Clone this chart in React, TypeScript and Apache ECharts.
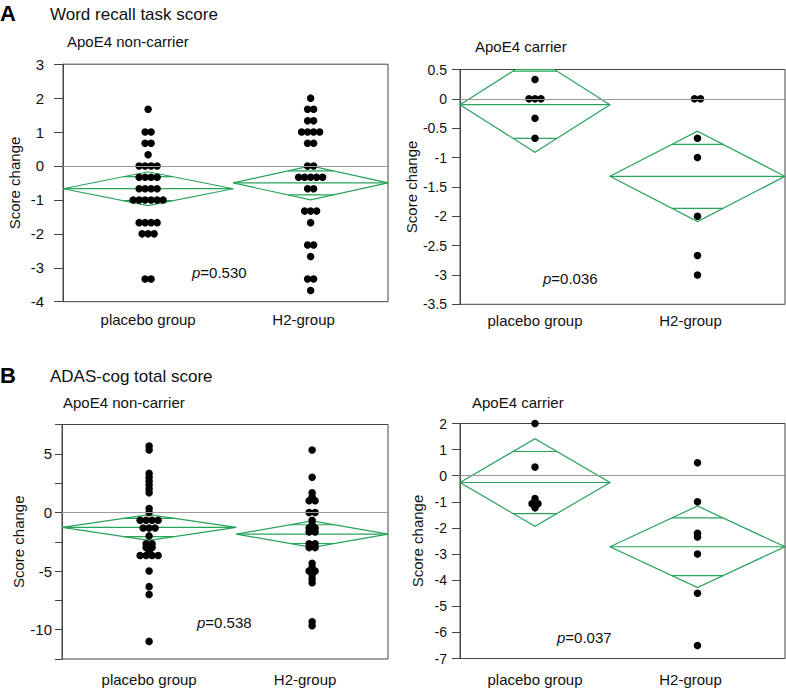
import React, { useEffect, useRef } from "react";
import * as echarts from "echarts";

// ---------- data ----------
const groupLabels = ["placebo group", "H2-group"];

// A: Word recall task score
const wordNonPlacebo = [
  1.67, 1, 1, 0.67, 0.67, 0.33, 0, 0, 0, 0, -0.33, -0.33, -0.33, -0.33,
  -0.67, -0.67, -0.67, -0.67, -1, -1, -1, -1, -1, -1, -1.67, -1.67, -1.67,
  -1.67, -2, -2, -2, -3.33, -3.33,
];
const wordNonH2 = [
  2, 1.67, 1.67, 1.33, 1.33, 1, 1, 1, 1, 0.67, 0.67, 0, 0, -0.33, -0.33,
  -0.33, -0.33, -0.33, -0.67, -0.67, -1.33, -1.33, -1.33, -1.67, -2.33, -2.33,
  -2.67, -3.33, -3.33, -3.67,
];
const wordCarPlacebo = [0.33, 0, 0, 0, -0.33, -0.67];
const wordCarH2 = [0, 0, -0.67, -1, -2, -2.67, -3];

// B: ADAS-cog total score
const adasNonPlacebo = [
  5.67, 5.33, 3.33, 3, 2.67, 2.33, 2, 1.67, 0.33, 0, -0.67, -0.67, -0.67,
  -0.67, -1.33, -1.33, -1.33, -2, -2.67, -2.67, -3, -3, -3.33, -3.67, -3.67,
  -3.67, -3.67, -5, -6.33, -7, -11,
];
const adasNonH2 = [
  5.33, 3, 1.67, 1.33, 1, 1, 0, 0, -0.67, -1, -1.33, -1.33, -1.67, -1.67,
  -2.67, -2.67, -3, -3, -4.33, -4.67, -5, -5, -5.33, -5.67, -6, -9.33, -9.67,
];
const adasCarPlacebo = [2, 0.33, -0.87, -1.07, -1.07, -1.23];
const adasCarH2 = [0.5, -1, -2.2, -2.35, -3, -4.5, -6.5];

// means diamonds: group mean and 95% CI half-width
const wordNonMeans = [-0.67, -0.5];
const wordNonCIs = [0.5, 0.5];
const wordCarMeans = [-0.1, -1.32];
const wordCarCIs = [0.81, 0.77];
const adasNonMeans = [-1.28, -1.85];
const adasNonCIs = [1.1, 1.13];
const adasCarMeans = [-0.26, -2.72];
const adasCarCIs = [1.68, 1.56];

// y axis ranges [min, max, interval, label step]
const wordNonAxis = [-4, 3, 1, 1];
const wordCarAxis = [-3.5, 0.5, 0.5, 0.5];
const adasNonAxis = [-12.5, 7.5, 2.5, 5];
const adasCarAxis = [-7, 2, 1, 1];

const pValues = ["0.530", "0.036", "0.538", "0.037"];

const sectionTitles = ["Word recall task score", "ADAS-cog total score"];
const sectionLetters = ["A", "B"];
const subTitles = ["ApoE4 non-carrier", "ApoE4 carrier"];

// ---------- styles / layout ----------
const FONT = "'Liberation Sans', Arial, Helvetica, sans-serif";
const GREEN = "#27a35a";
const FRAME = "#444444";
const ZERO = "#9a9a9a";
const TEXT = "#111111";
const DOT_SPACING = 6;
const DOT_SIZE = 7.5;

const panels = [
  { placebo: wordNonPlacebo, h2: wordNonH2, means: wordNonMeans, cis: wordNonCIs, axis: wordNonAxis, p: pValues[0] },
  { placebo: wordCarPlacebo, h2: wordCarH2, means: wordCarMeans, cis: wordCarCIs, axis: wordCarAxis, p: pValues[1] },
  { placebo: adasNonPlacebo, h2: adasNonH2, means: adasNonMeans, cis: adasNonCIs, axis: adasNonAxis, p: pValues[2] },
  { placebo: adasCarPlacebo, h2: adasCarH2, means: adasCarMeans, cis: adasCarCIs, axis: adasCarAxis, p: pValues[3] },
];

const layouts = [
  { left: 63, top: 64.2, width: 325, height: 237.5, tickLen: 9, labelMargin: 19, tickFont: 15, nameGap: 41, catMargin: 10, pX: 192, pY: 272 },
  { left: 460, top: 69.5, width: 325, height: 234.8, tickLen: 8, labelMargin: 13, tickFont: 14, nameGap: 36, catMargin: 9, pX: 543, pY: 278 },
  { left: 62, top: 424.5, width: 326, height: 234.5, tickLen: 7, labelMargin: 10, tickFont: 15, nameGap: 33, catMargin: 13, pX: 197, pY: 622 },
  { left: 460, top: 423.5, width: 325, height: 235, tickLen: 8, labelMargin: 13, tickFont: 14, nameGap: 35, catMargin: 13, pX: 557, pY: 637 },
];

const titleLayout = [
  { letterY: 13, titleY: 14, subY: [41, 46], subX: [67, 475] },
  { letterY: 375, titleY: 376, subY: [402, 402], subX: [63, 472] },
];

// ---------- helpers ----------
function tieOffsets(values: number[], spacing: number): number[] {
  const counts = new Map<number, number>();
  values.forEach((v) => counts.set(v, (counts.get(v) || 0) + 1));
  const seen = new Map<number, number>();
  return values.map((v) => {
    const n = counts.get(v) || 1;
    const i = seen.get(v) || 0;
    seen.set(v, i + 1);
    return (i - (n - 1) / 2) * spacing;
  });
}

function clipAgainst(poly: number[][], isIn: (p: number[]) => boolean, y: number) {
  const out: number[][] = [];
  for (let i = 0; i < poly.length; i++) {
    const cur = poly[i];
    const prev = poly[(i + poly.length - 1) % poly.length];
    const inter = () => [prev[0] + ((cur[0] - prev[0]) * (y - prev[1])) / (cur[1] - prev[1]), y];
    const cIn = isIn(cur);
    const pIn = isIn(prev);
    if (cIn) {
      if (!pIn) out.push(inter());
      out.push(cur);
    } else if (pIn) {
      out.push(inter());
    }
  }
  return out;
}

function groupSegments(nA: number, nB: number) {
  const f = nA / (nA + nB);
  return [
    [0, f],
    [f, 1],
  ];
}

function buildOption() {
  const grid: any[] = [];
  const xAxis: any[] = [];
  const yAxis: any[] = [];
  const series: any[] = [];
  const graphic: any[] = [];

  panels.forEach((pn, k) => {
    const L = layouts[k];
    const segs = groupSegments(pn.placebo.length, pn.h2.length);
    const centers = segs.map((s) => (s[0] + s[1]) / 2);
    const [yMin, yMax, yInt, yStep] = pn.axis;

    grid.push({
      left: L.left,
      top: L.top,
      width: L.width,
      height: L.height,
      show: true,
      borderColor: FRAME,
      borderWidth: 1,
      backgroundColor: "transparent",
      containLabel: false,
    });

    xAxis.push({
      type: "value",
      gridIndex: k,
      min: 0,
      max: 1,
      axisLine: { show: true, lineStyle: { color: FRAME, width: 1 } },
      axisTick: { show: false },
      splitLine: { show: false },
      axisLabel: {
        customValues: centers,
        margin: L.catMargin,
        fontSize: 15,
        fontFamily: FONT,
        color: TEXT,
        rich: {
          g0: { fontSize: 15, fontFamily: FONT, color: TEXT },
          g1: { fontSize: 15, fontFamily: FONT, color: TEXT, padding: [0, 14, 0, 0] },
        },
        formatter: (v: number) => {
          let best = 0;
          centers.forEach((c, i) => {
            if (Math.abs(c - v) < Math.abs(centers[best] - v)) best = i;
          });
          return "{g" + best + "|" + groupLabels[best] + "}";
        },
      },
    });

    yAxis.push({
      type: "value",
      gridIndex: k,
      min: yMin,
      max: yMax,
      interval: yInt,
      name: "Score change",
      nameLocation: "middle",
      nameGap: L.nameGap,
      nameTextStyle: { fontSize: 15, fontFamily: FONT, color: TEXT },
      axisLine: { show: true, lineStyle: { color: FRAME, width: 1 } },
      axisTick: { show: true, length: L.tickLen, lineStyle: { color: FRAME } },
      splitLine: { show: false },
      axisLabel: {
        margin: L.labelMargin,
        fontSize: L.tickFont,
        fontFamily: FONT,
        color: TEXT,
        showMinLabel: true,
        showMaxLabel: true,
        formatter: (v: number) => {
          const r = v / yStep;
          return Math.abs(r - Math.round(r)) < 1e-6 ? String(+v.toFixed(2)) : "";
        },
      },
    });

    // diamonds + zero line
    const diamondData = [0, 1].map((g) => [segs[g][0], segs[g][1], pn.means[g], pn.cis[g]]);
    series.push({
      type: "custom",
      xAxisIndex: k,
      yAxisIndex: k,
      silent: true,
      z: 2,
      clip: false,
      data: diamondData,
      markLine: {
        silent: true,
        symbol: "none",
        label: { show: false },
        lineStyle: { color: ZERO, width: 1, type: "solid" },
        data: [{ yAxis: 0 }],
      },
      renderItem: (params: any, api: any) => {
        const x0 = api.value(0);
        const x1 = api.value(1);
        const m = api.value(2);
        const h = api.value(3);
        const xc = (x0 + x1) / 2;
        const Lp = api.coord([x0, m]);
        const Rp = api.coord([x1, m]);
        const Tp = api.coord([xc, m + h]);
        const Bp = api.coord([xc, m - h]);
        const cs = params.coordSys;
        const top = cs.y;
        const bottom = cs.y + cs.height;
        let poly = [Lp, Tp, Rp, Bp];
        poly = clipAgainst(poly, (p) => p[1] >= top, top);
        poly = clipAgainst(poly, (p) => p[1] <= bottom, bottom);
        const style = { stroke: GREEN, lineWidth: 1.2, fill: "none" };
        const children: any[] = [
          { type: "polygon", shape: { points: poly }, style },
          { type: "line", shape: { x1: Lp[0], y1: Lp[1], x2: Rp[0], y2: Rp[1] }, style },
        ];
        const kk = 1 / Math.SQRT2;
        const halfW = ((Rp[0] - Lp[0]) / 2) * (1 - kk);
        [m + h * kk, m - h * kk].forEach((yv) => {
          const c = api.coord([xc, yv]);
          if (c[1] > top + 0.5 && c[1] < bottom - 0.5) {
            children.push({
              type: "line",
              shape: { x1: c[0] - halfW, y1: c[1], x2: c[0] + halfW, y2: c[1] },
              style,
            });
          }
        });
        return { type: "group", children };
      },
    });

    // dots
    const dots: any[] = [];
    [pn.placebo, pn.h2].forEach((vals, g) => {
      const offs = tieOffsets(vals, DOT_SPACING);
      vals.forEach((v, i) => {
        dots.push({ value: [centers[g], v], symbolOffset: [offs[i], 0] });
      });
    });
    series.push({
      type: "scatter",
      xAxisIndex: k,
      yAxisIndex: k,
      silent: true,
      z: 3,
      symbol: "circle",
      symbolSize: DOT_SIZE,
      itemStyle: { color: "#000000", opacity: 1 },
      data: dots,
    });

    // p-value
    graphic.push({
      type: "text",
      x: L.pX,
      y: L.pY,
      silent: true,
      style: {
        text: "{i|p}=" + pn.p,
        fontSize: 15,
        fontFamily: FONT,
        fill: TEXT,
        verticalAlign: "middle",
        align: "left",
        rich: { i: { fontStyle: "italic", fontSize: 15, fontFamily: FONT, fill: TEXT } },
      },
    });
  });

  // section titles
  titleLayout.forEach((t, s) => {
    graphic.push({
      type: "text",
      x: 0,
      y: t.letterY,
      silent: true,
      style: { text: sectionLetters[s], fontSize: 22, fontWeight: "bold", fontFamily: FONT, fill: "#000", verticalAlign: "middle" },
    });
    graphic.push({
      type: "text",
      x: 50,
      y: t.titleY,
      silent: true,
      style: { text: sectionTitles[s], fontSize: 17, fontFamily: FONT, fill: TEXT, verticalAlign: "middle" },
    });
    subTitles.forEach((st, j) => {
      graphic.push({
        type: "text",
        x: t.subX[j],
        y: t.subY[j],
        silent: true,
        style: { text: st, fontSize: 15, fontFamily: FONT, fill: TEXT, verticalAlign: "middle" },
      });
    });
  });

  return {
    animation: false,
    backgroundColor: "#ffffff",
    textStyle: { fontFamily: FONT },
    grid,
    xAxis,
    yAxis,
    series,
    graphic,
  };
}

export default function App() {
  const ref = useRef<HTMLDivElement>(null);
  useEffect(() => {
    if (!ref.current) return;
    const chart = echarts.init(ref.current, undefined, { renderer: "svg" });
    chart.setOption(buildOption() as any);
    return () => chart.dispose();
  }, []);
  return (
    <div
      ref={ref}
      style={{ position: "absolute", left: 0, top: 0, width: 786, height: 691, background: "#fff" }}
    />
  );
}
